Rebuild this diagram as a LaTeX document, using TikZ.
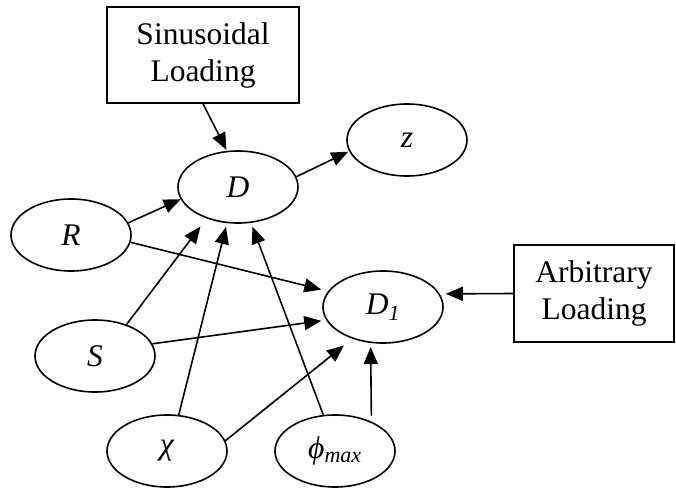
\documentclass[tikz,border=0pt]{standalone}
\usepackage{fontspec}
\setmainfont{Liberation Serif}
\usetikzlibrary{shapes.geometric,arrows.meta}
\begin{document}
\begin{tikzpicture}[x=1pt,y=-1pt,
  every node/.style={font=\fontsize{31.5}{37}\selectfont},
  ell/.style={ellipse,draw,line width=1.6pt,minimum width=120pt,minimum height=72pt,inner sep=0pt},
  boxnode/.style={rectangle,draw,line width=1.6pt,align=center,inner sep=0pt},
  link/.style={line width=1.6pt,-{Triangle[length=17pt,width=14pt]}}]
\useasboundingbox (0,0) rectangle (676,487);

% loading boxes
\node[boxnode,minimum width=192pt,minimum height=96pt] (sin) at (203,55) {Sinusoidal\\Loading};
\node[boxnode,minimum width=160pt,minimum height=97pt] (arb) at (594,293.5) {Arbitrary\\Loading};

% variables
\node[ell] (D)   at (238,187) {\textit{D}};
\node[ell] (z)   at (407,140) {\textit{z}};
\node[ell] (R)   at (71,235)  {\textit{R}};
\node[ell] (D1)  at (383,307) {\textit{D}\textsubscript{\textit{1}}};
\node[ell] (S)   at (95,356)  {\textit{S}};
\node[ell] (chi) at (167,451) {\textit{χ}};
\node[ell] (phi) at (335,451) {\textit{ϕ}\textsubscript{\textit{max}}};

% influences
\draw[link,shorten >=1pt] (sin.south) -- (D.107);
\draw[link,shorten >=1pt] (D.10) -- (z.191);
\draw[link] (R.12) -- (D.192);
\draw[link,shorten >=7pt] (R.-7) -- (D1.164);
\draw[link,shorten >=10pt] (S.45) -- (D.225);
\draw[link,shorten >=5pt] (S.12) -- (D1.193);
\draw[link,shorten >=4pt] (chi.72) -- (D.253);
\draw[link,shorten >=10.7pt] (chi.10) -- (D1.226);
\draw[link,shorten >=4pt] (phi.108) -- (D.290);
\draw[link,shorten >=4pt,shorten <=6pt] (phi.39) -- (D1.251);
\draw[link,shorten >=6pt] (arb.west) -- (D1.13);
\end{tikzpicture}
\end{document}
